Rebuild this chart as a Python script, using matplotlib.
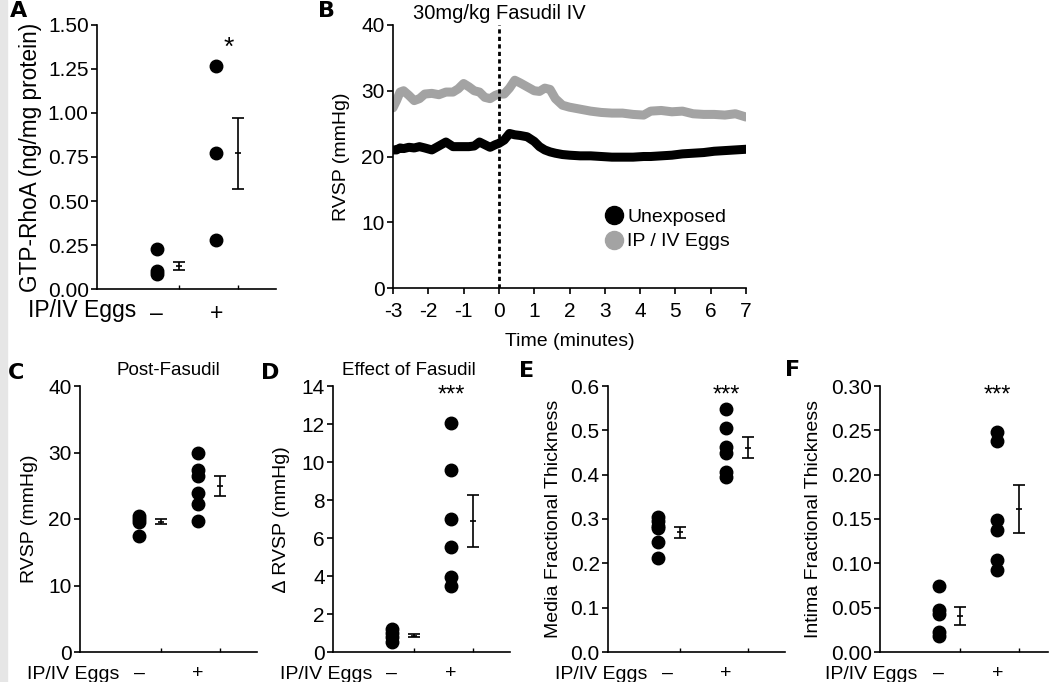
import numpy as np
import matplotlib.pyplot as plt
from matplotlib.lines import Line2D
from matplotlib.patches import Rectangle
from matplotlib.ticker import FormatStrFormatter

plt.rcParams["font.family"] = ["Liberation Sans", "DejaVu Sans"]
plt.rcParams["font.size"] = 14
plt.rcParams["axes.unicode_minus"] = False

# ---- data ----
# A: GTP-RhoA
rhoa_neg = [0.225, 0.105, 0.085]
rhoa_pos = [1.265, 0.77, 0.28]
rhoa_mean = [0.13, 0.77]
rhoa_sem = [0.022, 0.20]

# B: RVSP trace around fasudil injection
t_min = [-3.0, -2.9, -2.8, -2.7, -2.55, -2.4, -2.25, -2.1, -1.9, -1.7,
         -1.5, -1.3, -1.15, -1.0, -0.85, -0.7, -0.55, -0.4, -0.25, -0.1,
         0.0, 0.15, 0.3, 0.45, 0.6, 0.8, 1.0, 1.15, 1.3, 1.45,
         1.6, 1.8, 2.0, 2.3, 2.6, 2.9, 3.2, 3.5, 3.8, 4.1,
         4.3, 4.6, 4.9, 5.2, 5.5, 5.8, 6.1, 6.4, 6.7, 7.0]
rvsp_eggs = [27.4, 28.5, 29.8, 30.0, 29.3, 28.5, 28.8, 29.5, 29.6, 29.4,
             29.8, 29.8, 30.3, 31.1, 30.6, 30.0, 29.8, 29.0, 28.8, 29.3,
             29.5, 29.5, 30.4, 31.6, 31.2, 30.6, 30.0, 29.9, 30.4, 30.2,
             28.8, 27.8, 27.5, 27.2, 26.9, 26.7, 26.6, 26.6, 26.4, 26.3,
             26.9, 27.0, 26.8, 26.9, 26.5, 26.4, 26.4, 26.3, 26.5, 26.0]
rvsp_unexp = [21.0, 21.0, 21.3, 21.2, 21.4, 21.3, 21.5, 21.3, 21.0, 21.6,
              22.2, 21.5, 21.5, 21.5, 21.5, 21.6, 22.2, 21.8, 21.4, 21.8,
              22.0, 22.5, 23.5, 23.3, 23.2, 23.0, 22.3, 21.5, 21.0, 20.7,
              20.5, 20.3, 20.2, 20.1, 20.1, 20.0, 19.9, 19.9, 19.9, 20.0,
              20.0, 20.1, 20.2, 20.4, 20.5, 20.6, 20.8, 20.9, 21.0, 21.1]

# C: post-fasudil RVSP
post_neg = [20.5, 20.0, 19.6, 17.5]
post_pos = [30.0, 27.3, 26.5, 23.9, 22.2, 19.7]
post_mean = [19.6, 24.9]
post_sem = [0.4, 1.5]

# D: change in RVSP
delta_neg = [1.2, 1.0, 0.8, 0.55]
delta_pos = [12.05, 9.6, 7.0, 5.55, 3.95, 3.45]
delta_mean = [0.85, 6.9]
delta_sem = [0.08, 1.37]

# E: media fractional thickness
media_neg = [0.305, 0.295, 0.285, 0.28, 0.248, 0.213]
media_pos = [0.548, 0.505, 0.463, 0.45, 0.405, 0.395]
media_mean = [0.270, 0.461]
media_sem = [0.013, 0.024]

# F: intima fractional thickness
intima_neg = [0.075, 0.047, 0.043, 0.022, 0.018]
intima_pos = [0.248, 0.238, 0.149, 0.138, 0.104, 0.093]
intima_mean = [0.041, 0.161]
intima_sem = [0.010, 0.027]

W, H = 1050, 682
fig = plt.figure(figsize=(W / 100, H / 100), dpi=100)
fig.patches.append(Rectangle((0, 0), 7 / W, 1, transform=fig.transFigure,
                             color="#e6e6e6", zorder=-1))


def rect(left, top, right, bottom):
    return [left / W, 1 - bottom / H, (right - left) / W, (bottom - top) / H]


def style(ax, tick_fs=15):
    for s in ["top", "right"]:
        ax.spines[s].set_visible(False)
    for s in ["left", "bottom"]:
        ax.spines[s].set_linewidth(1.2)
    ax.tick_params(axis="y", direction="out", length=4, width=1.2, pad=2,
                   labelsize=tick_fs)


def dot_panel(ax, neg, pos, mean, sem, ylim, yticks, fmt, ylabel, xmax=3.0,
              neg_x=1.0, stars=None, label_x=-0.25, ylab_fs=14, grp_fs=14):
    style(ax)
    ax.plot([neg_x] * len(neg), neg, "o", color="black", ms=9, clip_on=False)
    ax.plot([2.0] * len(pos), pos, "o", color="black", ms=9, clip_on=False)
    ex = [neg_x + 0.37, 2.37]
    ax.errorbar(ex, mean, yerr=sem, fmt="none", ecolor="black",
                elinewidth=1.2, capsize=4, capthick=1.2)
    ax.plot(ex, mean, "_", color="black", ms=5, mew=1.2)
    ax.set_xlim(0, xmax)
    ax.set_ylim(*ylim)
    ax.set_yticks(yticks)
    ax.yaxis.set_major_formatter(FormatStrFormatter(fmt))
    ax.set_xticks([1.0, 2.0])
    ax.set_xticklabels(["\u2013", "+"])
    ax.set_xticks(ex, minor=True)
    ax.tick_params(axis="x", which="major", length=0, pad=9,
                   labelsize=grp_fs)
    ax.tick_params(axis="x", which="minor", direction="in", length=3, width=1)
    ax.text(0.22, -0.083, "IP/IV Eggs", transform=ax.transAxes,
            ha="right", va="center", fontsize=grp_fs)
    ax.set_ylabel(ylabel, fontsize=ylab_fs)
    ax.yaxis.set_label_coords(label_x, 0.5)
    if stars:
        ax.text(2.0, ylim[1] * 0.965, stars, ha="center", va="center",
                fontsize=17)


# A
axA = fig.add_axes(rect(97, 25, 276, 289))
dot_panel(axA, rhoa_neg, rhoa_pos, rhoa_mean, rhoa_sem, (0, 1.5),
          np.arange(0, 1.51, 0.25), "%.2f", "GTP-RhoA (ng/mg protein)",
          label_x=-0.305, ylab_fs=16.3, grp_fs=16.5)
axA.text(2.2, 1.37, "*", ha="center", va="center", fontsize=19)

# B
axB = fig.add_axes(rect(393, 25, 746, 288))
style(axB)
axB.plot(t_min, rvsp_eggs, color="#a3a3a3", lw=6.5, solid_capstyle="round",
         solid_joinstyle="round")
axB.plot(t_min, rvsp_unexp, color="black", lw=6.5, solid_capstyle="round",
         solid_joinstyle="round")
axB.axvline(0, color="black", lw=2, ls=(0, (1.5, 1.2)))
axB.set_xlim(-3, 7)
axB.set_ylim(0, 40)
axB.set_xticks(range(-3, 8))
axB.set_yticks(range(0, 41, 10))
axB.tick_params(axis="x", direction="out", length=4, width=1.2, pad=6,
                labelsize=15)
axB.set_xlabel("Time (minutes)", fontsize=14, labelpad=9)
axB.set_ylabel("RVSP (mmHg)", fontsize=14)
axB.yaxis.set_label_coords(-0.122, 0.5)
axB.text(0, 41.8, "30mg/kg Fasudil IV", ha="center", va="center",
         fontsize=14.5)
handles = [Line2D([], [], ls="none", marker="o", ms=13, color="black"),
           Line2D([], [], ls="none", marker="o", ms=13, color="#a3a3a3")]
axB.legend(handles, ["Unexposed", "IP / IV Eggs"], loc="upper left",
           bbox_to_anchor=(0.57, 0.34), frameon=False, fontsize=14,
           handletextpad=0.2, labelspacing=0.35, handlelength=1.0,
           borderpad=0)

# C
axC = fig.add_axes(rect(80, 386, 257, 652))
dot_panel(axC, post_neg, post_pos, post_mean, post_sem, (0, 40),
          range(0, 41, 10), "%d", "RVSP (mmHg)", label_x=-0.237)
axC.set_title("Post-Fasudil", fontsize=13.5, pad=8)

# D
axD = fig.add_axes(rect(333, 386, 510, 652))
dot_panel(axD, delta_neg, delta_pos, delta_mean, delta_sem, (0, 14),
          range(0, 15, 2), "%d", "\u2206 RVSP (mmHg)", stars="***",
          label_x=-0.243)
axD.set_title("Effect of Fasudil", fontsize=13.5, pad=8, x=0.43)

# E
axE = fig.add_axes(rect(608, 386, 785, 652))
dot_panel(axE, media_neg, media_pos, media_mean, media_sem, (0, 0.6),
          np.arange(0, 0.61, 0.1), "%.1f", "Media Fractional Thickness",
          neg_x=0.85, stars="***", label_x=-0.26)

# F
axF = fig.add_axes(rect(880, 386, 1048, 652))
dot_panel(axF, intima_neg, intima_pos, intima_mean, intima_sem, (0, 0.3),
          np.arange(0, 0.31, 0.05), "%.2f", "Intima Fractional Thickness",
          xmax=2.86, stars="***", label_x=-0.345)

# panel letters
for letter, x, y in [("A", 19, 11), ("B", 327, 11), ("C", 16, 373),
                     ("D", 270, 373), ("E", 527, 371), ("F", 793, 370)]:
    fig.text(x / W, 1 - y / H, letter, fontsize=16, fontweight="bold",
             family="DejaVu Sans", ha="center", va="center")

fig.savefig("out.png", dpi=100)
